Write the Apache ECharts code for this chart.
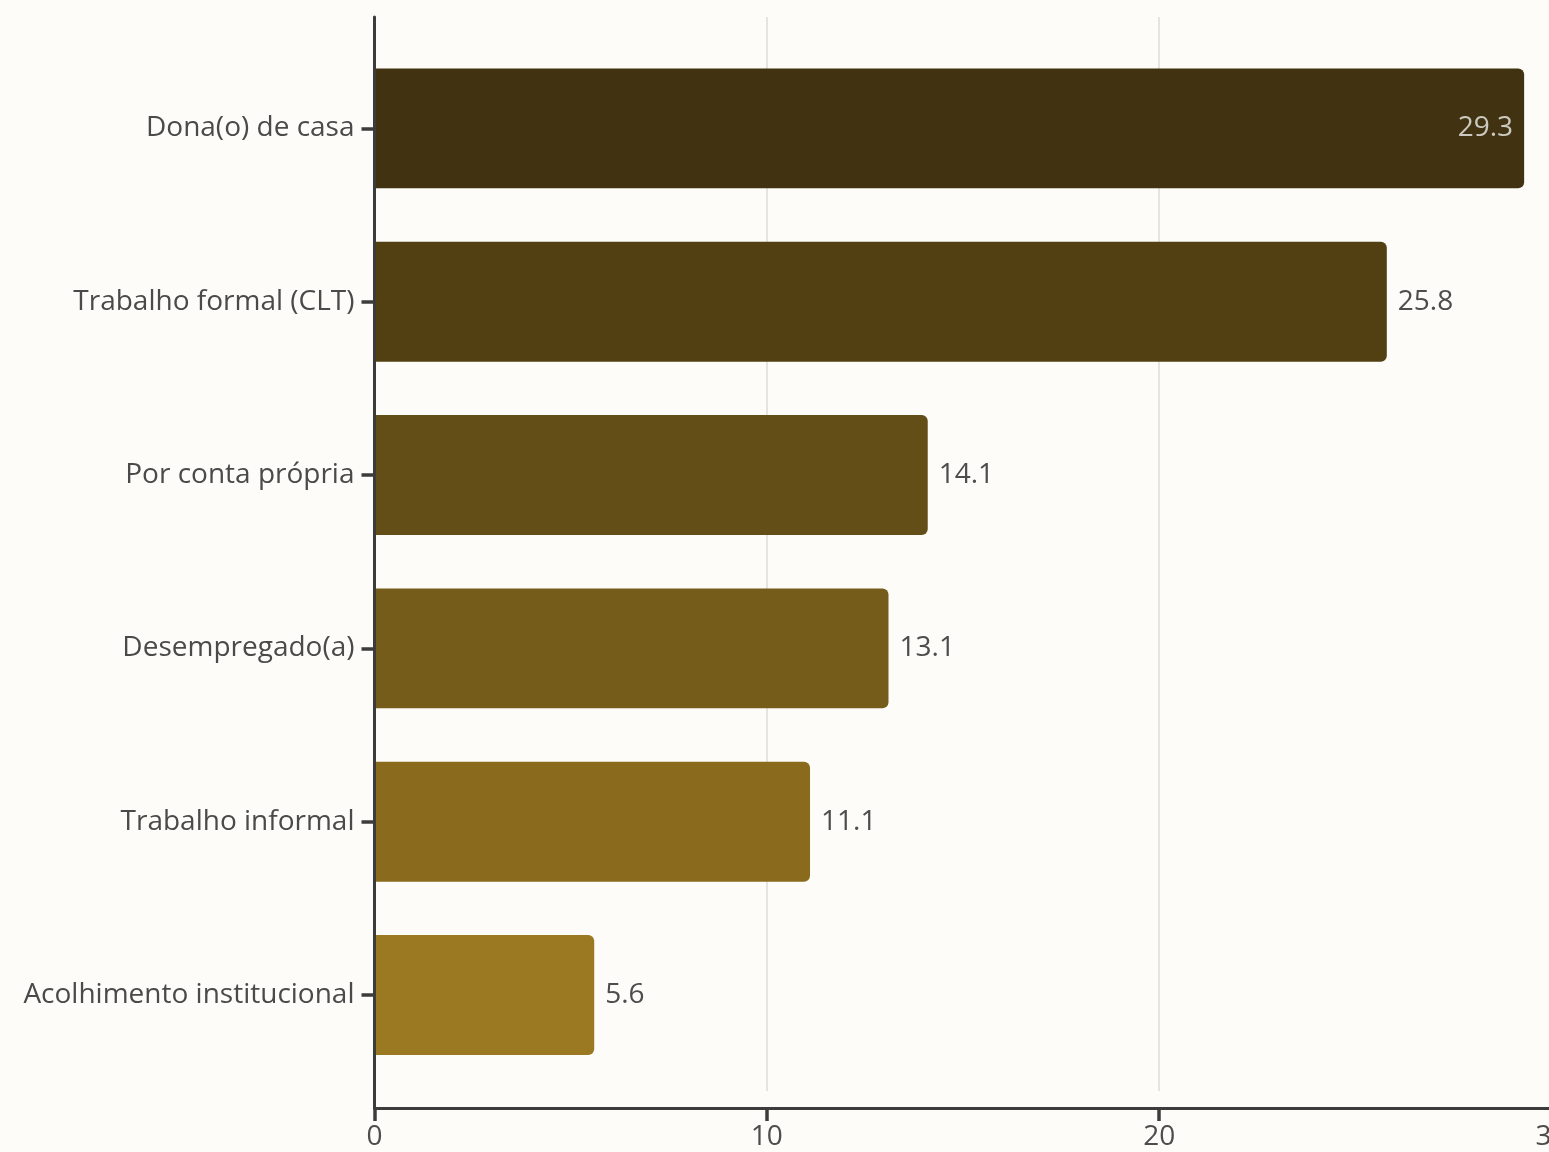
<!DOCTYPE html>
<html><head><meta charset="utf-8">
<script src="https://cdn.jsdelivr.net/npm/echarts@6/dist/echarts.min.js"></script>
<style>html,body{margin:0;padding:0;background:#fdfcf8}#c{width:1549px;height:1152px}</style>
</head><body><div id="c"></div>
<script>
const categories = ['Dona(o) de casa', 'Trabalho formal (CLT)', 'Por conta própria', 'Desempregado(a)', 'Trabalho informal', 'Acolhimento institucional'];
const values = [29.3, 25.8, 14.1, 13.1, 11.1, 5.6];
const xMin = 0, xMax = 30, xStep = 10;
const palette = ['#413311', '#524013', '#634e17', '#765c1b', '#8a6a1d', '#9b7922'];

const FONT = 'Open Sans';
const AX = '#3c3c3c';
const chart = echarts.init(document.getElementById('c'), null, {renderer: 'canvas'});
const L = 374.5, R = -2.6;

const data = values.map((v, i) => {
  const inside = v / xMax > 0.9;
  return {
    value: v,
    itemStyle: {color: palette[i]},
    label: inside ? {position: 'insideRight', color: '#cbc8c0', distance: 11} : {}
  };
});

const g = (top, bottom) => ({left: L, right: R, top: top, bottom: bottom, outerBoundsMode: 'none', containLabel: false});

chart.setOption({
  backgroundColor: '#fdfcf8',
  animation: false,
  grid: [g(17, 44), g(17, 61), g(41.7, 70.3)],
  xAxis: [
    {gridIndex: 0, type: 'value', min: xMin, max: xMax, interval: xStep, z: 5,
     axisLine: {show: true, lineStyle: {color: AX, width: 3}},
     axisTick: {show: true, length: 13, lineStyle: {color: AX, width: 3.5}},
     axisLabel: {fontFamily: FONT, fontSize: 28, color: '#4d4d4d', margin: 15, hideOverlap: false, showMaxLabel: true},
     splitLine: {show: false}},
    {gridIndex: 1, type: 'value', min: xMin, max: xMax, interval: xStep,
     axisLine: {show: false}, axisTick: {show: false}, axisLabel: {show: false},
     splitLine: {show: true, lineStyle: {color: '#dedcd8', width: 1.5}}},
    {gridIndex: 2, type: 'value', min: xMin, max: xMax, interval: xStep, show: false}
  ],
  yAxis: [
    {gridIndex: 0, type: 'value', z: 5,
     axisLine: {show: true, onZero: false, lineStyle: {color: AX, width: 3}},
     axisTick: {show: false}, axisLabel: {show: false}, splitLine: {show: false}},
    {gridIndex: 1, type: 'value', show: false},
    {gridIndex: 2, type: 'category', data: categories, inverse: true, z: 5,
     axisLine: {show: false},
     axisTick: {show: true, alignWithLabel: true, length: 13, lineStyle: {color: AX, width: 3.5}},
     axisLabel: {fontFamily: FONT, fontSize: 28, color: '#4a4a4a', margin: 20}}
  ],
  series: [{
    type: 'bar', xAxisIndex: 2, yAxisIndex: 2,
    data: data,
    barCategoryGap: '30.8%',
    itemStyle: {borderRadius: [0, 6, 6, 0]},
    label: {show: true, position: 'right', distance: 11, fontFamily: FONT, fontSize: 28, color: '#4d4d4d',
            formatter: p => p.value.toFixed(1)}
  }]
});
</script>
</body></html>
